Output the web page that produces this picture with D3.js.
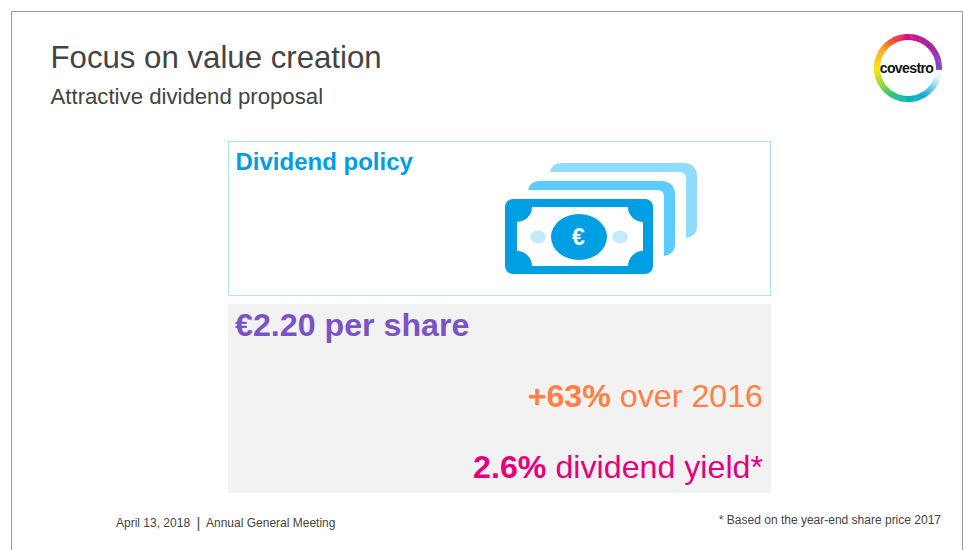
<!DOCTYPE html>
<html>
<head>
<meta charset="utf-8">
<script src="https://cdn.jsdelivr.net/npm/d3@7"></script>
<style>
  html, body { margin: 0; padding: 0; background: #fff; overflow: hidden; }
  text { font-family: "Liberation Sans", Arial, sans-serif; }
</style>
</head>
<body>
<div id="slide"></div>
<script>
// Slide text
var title = "Focus on value creation";
var subtitle = "Attractive dividend proposal";
var panelTitle = "Dividend policy";
var footerDate = "April 13, 2018";
var footerEvent = "Annual General Meeting";
var footnote = "* Based on the year-end share price 2017";
var logoText = "covestro";

// Key figures
var figureBold = ["€2.20 per share", "+63%", "2.6%"];
var figureRest = ["", " over 2016", " dividend yield*"];
var figureColors = ["#7a54c6", "#ff8045", "#e5007d"];

// Logo ring colours, clockwise from 12 o'clock
var ringAngles = [0, 40, 93, 93.1, 108, 125, 150, 180, 215, 240, 268, 305, 332, 360];
var ringColors = ["#d2108a", "#a818a0", "#7d4fc4", "#ffffff", "#e2f5fb", "#7fd4f2", "#10a8e0", "#00b4b4",
                  "#2cc86a", "#9ed830", "#f6e60a", "#fba81a", "#f2462c", "#d2108a"];

var width = 963, height = 550;

var svg = d3.select("#slide").append("svg")
    .attr("width", width)
    .attr("height", height)
    .style("display", "block");

// Slide frame
svg.append("path")
    .attr("d", "M11.5,550V11.5H962.5V550")
    .attr("fill", "none")
    .attr("stroke", "#9a9a9a")
    .attr("stroke-width", 1);

// Headings
svg.append("text").attr("x", 50.5).attr("y", 68)
    .attr("font-size", 31.2).attr("fill", "#444").text(title);
svg.append("text").attr("x", 50.5).attr("y", 104)
    .attr("font-size", 22.2).attr("fill", "#444").text(subtitle);

// Upper panel
svg.append("rect").attr("x", 228.5).attr("y", 141.5).attr("width", 542).attr("height", 154)
    .attr("fill", "#fff").attr("stroke", "#a9e3f5");
svg.append("text").attr("x", 235.5).attr("y", 170)
    .attr("font-size", 24).attr("font-weight", 700).attr("fill", "#009fe3").text(panelTitle);

// Back notes of the money icon
[{x: 550, y: 163, fill: "#90dcff"}, {x: 528, y: 181, fill: "#5ccbff"}].forEach(function(n) {
    var r = n.x + 147, b = n.y + 74;
    svg.append("path")
        .attr("d", "M" + n.x + "," + (n.y + 9) + "Q" + (n.x + 2) + "," + n.y + " " + (n.x + 12) + "," + n.y +
            "H" + (r - 14) + "Q" + r + "," + n.y + " " + r + "," + (n.y + 14) +
            "V" + (b - 10) + "Q" + r + "," + (b - 1) + " " + (r - 11) + "," + (b + 1) +
            "V" + (n.y + 16) + "Q" + (r - 11) + "," + (n.y + 9) + " " + (r - 18) + "," + (n.y + 9) + "Z")
        .attr("fill", n.fill);
});

// Front note, the corner notches are clipped to the white area
svg.append("clipPath").attr("id", "noteClip")
    .append("rect").attr("x", 517).attr("y", 207).attr("width", 126).attr("height", 59);

var note = svg.append("g");
note.append("rect").attr("x", 505).attr("y", 199).attr("width", 148).attr("height", 75).attr("rx", 8)
    .attr("fill", "#009fe3");
note.append("rect").attr("x", 517).attr("y", 207).attr("width", 126).attr("height", 59).attr("fill", "#fff");
[[517, 207], [643, 207], [517, 266], [643, 266]].forEach(function(c) {
    note.append("circle").attr("cx", c[0]).attr("cy", c[1]).attr("r", 15)
        .attr("clip-path", "url(#noteClip)")
        .attr("fill", "#009fe3");
});
note.append("ellipse").attr("cx", 579).attr("cy", 237).attr("rx", 28).attr("ry", 23).attr("fill", "#009fe3");
[538, 620].forEach(function(x) {
    note.append("ellipse").attr("cx", x).attr("cy", 237).attr("rx", 8).attr("ry", 6.5).attr("fill", "#c4eafd");
});
note.append("text").attr("x", 578.5).attr("y", 245).attr("text-anchor", "middle")
    .attr("font-size", 23).attr("font-weight", 700).attr("fill", "#fff").text("€");

// Lower panel with the key figures
svg.append("rect").attr("x", 228).attr("y", 304).attr("width", 543).attr("height", 189).attr("fill", "#f2f2f2");

var figureY = d3.scalePoint().domain(d3.range(figureBold.length)).range([336, 478]);

var figures = svg.selectAll(".figure")
    .data(figureBold)
    .enter().append("text")
    .attr("class", "figure")
    .attr("x", function(d, i) { return i === 0 ? 235 : 763; })
    .attr("y", function(d, i) { return figureY(i); })
    .attr("text-anchor", function(d, i) { return i === 0 ? "start" : "end"; })
    .attr("font-size", 32.2)
    .attr("fill", function(d, i) { return figureColors[i]; });

figures.append("tspan").attr("font-weight", 700).text(function(d) { return d; });
figures.append("tspan").attr("xml:space", "preserve").style("white-space", "pre")
    .text(function(d, i) { return figureRest[i]; });

// Footer
svg.append("text").attr("x", 116).attr("y", 527)
    .attr("font-size", 12).attr("fill", "#444").text(footerDate);
svg.append("line").attr("x1", 198.5).attr("x2", 198.5).attr("y1", 517).attr("y2", 531)
    .attr("stroke", "#666").attr("stroke-width", 1.5);
svg.append("text").attr("x", 206).attr("y", 527)
    .attr("font-size", 12).attr("fill", "#444").text(footerEvent);
svg.append("text").attr("x", 941).attr("y", 524).attr("text-anchor", "end")
    .attr("font-size", 12).attr("fill", "#444").text(footnote);

// Logo ring, drawn as short arcs so the colours blend round the circle
var ringColor = d3.scaleLinear().domain(ringAngles).range(ringColors).interpolate(d3.interpolateRgb);
var ringArc = d3.arc().innerRadius(28).outerRadius(34);
var logo = svg.append("g").attr("transform", "translate(908,68)");

logo.selectAll("path")
    .data(d3.range(0, 360, 2))
    .enter().append("path")
    .attr("d", function(a) {
        return ringArc({startAngle: a * Math.PI / 180, endAngle: (a + 2.6) * Math.PI / 180});
    })
    .attr("fill", function(a) { return ringColor(a + 1); });

logo.append("text").attr("x", -1.5).attr("y", 4.5).attr("text-anchor", "middle")
    .attr("font-size", 14).attr("font-weight", 700).attr("letter-spacing", -0.6)
    .attr("fill", "#111").text(logoText);
</script>
</body>
</html>
